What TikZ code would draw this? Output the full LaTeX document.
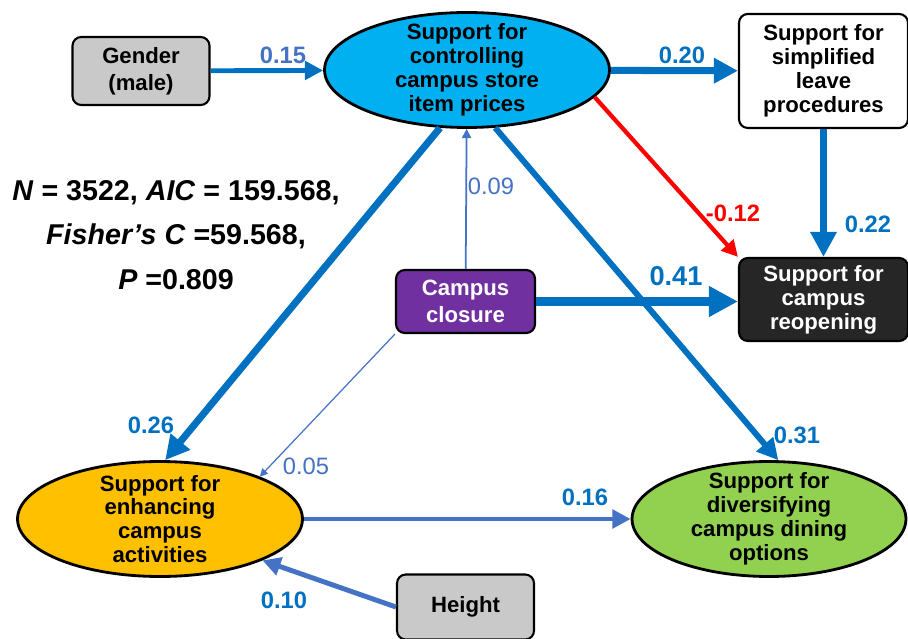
\documentclass[tikz,border=0pt]{standalone}
\usepackage{fontspec}
\setmainfont{Liberation Sans}
\usepackage{xcolor}
\usetikzlibrary{positioning, arrows.meta, shapes.geometric}
\definecolor{storeblue}{HTML}{00B0F0}
\definecolor{activorange}{HTML}{FFC000}
\definecolor{dininggreen}{HTML}{92D050}
\definecolor{closurepurple}{HTML}{7030A0}
\definecolor{darkbox}{HTML}{262626}
\definecolor{boxgray}{HTML}{C9C9C9}
\definecolor{arrowblue}{HTML}{0070C0}
\definecolor{lightblue}{HTML}{4472C4}

\begin{document}
\begin{tikzpicture}[x=0.02cm, y=-0.02cm,
    box/.style={draw=black, line width=1.2pt, rounded corners=5pt, inner sep=0pt},
    ellip/.style={ellipse, draw=black, line width=1.6pt, inner sep=0pt,
                  minimum width=5.7cm, minimum height=2.3cm},
    txt/.style={align=center, font=\fontsize{12.6}{13.6}\selectfont\bfseries},
    wide/.style={font=\fontsize{12.6}{15.3}\selectfont\bfseries},
    link/.style={draw=arrowblue, -{Triangle[length=2.5pt 2.8, width=2.5pt 2.8]}},
    lbl/.style={font=\fontsize{13.5}{14}\selectfont\bfseries, text=arrowblue, inner sep=0pt}]
    \useasboundingbox (0,0) rectangle (908,638);

    \node[box, fill=boxgray, minimum width=2.74cm, minimum height=1.36cm, txt, wide]
        (gender) at (141,71) {Gender\\(male)};
    \node[ellip, fill=storeblue] (prices) at (467,70) {};
    \node[txt] (pricestxt) at (prices) {Support for\\controlling\\campus store\\item prices};
    \node[box, fill=white, minimum width=3.38cm, minimum height=2.28cm, txt]
        (leave) at (823.5,71) {Support for\\simplified\\leave\\procedures};
    \node[box, fill=darkbox, text=white, minimum width=3.38cm, minimum height=1.66cm, txt]
        (reopen) at (823.5,299.5) {Support for\\campus\\reopening};
    \node[box, fill=closurepurple, text=white, minimum width=2.78cm, minimum height=1.26cm, txt, wide]
        (closure) at (465.5,301.5) {Campus\\closure};
    \node[ellip, fill=activorange] (enh) at (160,519) {};
    \node[txt] (enhtxt) at (enh) {Support for\\enhancing\\campus\\activities};
    \node[ellip, fill=dininggreen, minimum width=5.48cm] (dine) at (769,519) {};
    \node[txt] (dinetxt) at (dine) {Support for\\diversifying\\campus dining\\options};
    \node[box, fill=boxgray, minimum width=2.74cm, minimum height=1.3cm, txt]
        (height) at (465.5,607) {Height};

    \node[align=center, font=\fontsize{16.3}{25.5}\selectfont\bfseries] (stats) at (176,235)
        {\textit{N} = 3522, \textit{AIC} = 159.568,\\\textit{Fisher’s C} =59.568,\\\textit{P} =0.809};

    \draw[link, line width=2.8pt] (gender) -- (prices);
    \draw[link, line width=4pt] (prices) -- (leave);
    \draw[link, line width=2.4pt, draw=red] (prices.-12) -- (reopen.north west);
    \draw[link, line width=4.2pt] (leave) -- (reopen);
    \draw[link, line width=1pt, draw=lightblue] (closure) -- (prices);
    \draw[link, line width=5pt] (closure.east) -- (closure.east -| reopen.west);
    \draw[link, line width=4pt] (prices.245) -- (enh.85);
    \draw[link, line width=3.4pt] (prices.-64) -- (dine.81);
    \draw[link, line width=0.7pt, draw=lightblue] (closure.south west) -- (enh.23);
    \draw[link, line width=2.8pt, draw=lightblue] (enh) -- (dine);
    \draw[link, line width=2.8pt, draw=lightblue] (height.west) -- (enh.-22);

    \node[lbl, text=lightblue] (w015) at (283,55) {0.15};
    \node[lbl] (w020) at (682,55) {0.20};
    \node[lbl, text=red] (w012) at (733,213) {-0.12};
    \node[lbl] (w022) at (868,224) {0.22};
    \node[lbl, text=lightblue, font=\fontsize{13.5}{14}\selectfont] (w009) at (491,186) {0.09};
    \node[lbl, font=\fontsize{15.5}{16}\selectfont\bfseries] (w041) at (676,276) {0.41};
    \node[lbl] (w026) at (151,425) {0.26};
    \node[lbl] (w031) at (797,435) {0.31};
    \node[lbl, text=lightblue, font=\fontsize{13.5}{14}\selectfont] (w005) at (306,466) {0.05};
    \node[lbl] (w016) at (585,497) {0.16};
    \node[lbl] (w010) at (284,600) {0.10};
\end{tikzpicture}
\end{document}
